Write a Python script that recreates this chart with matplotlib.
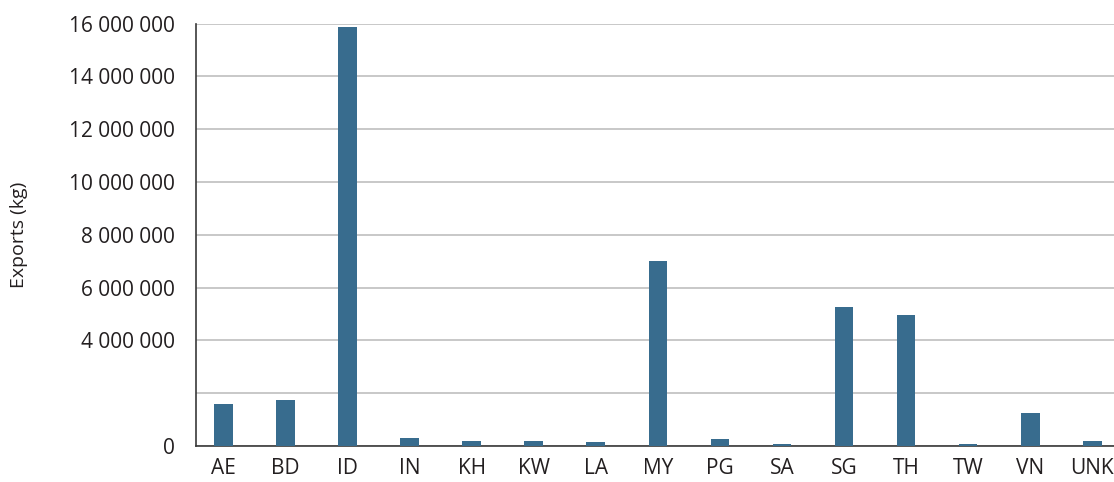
import matplotlib.pyplot as plt
import numpy as np

plt.rcParams['font.family'] = ['Open Sans', 'DejaVu Sans']

countries = ['AE', 'BD', 'ID', 'IN', 'KH', 'KW', 'LA', 'MY', 'PG', 'SA',
             'SG', 'TH', 'TW', 'VN', 'UNK']
exports_kg = [1590000, 1740000, 15880000, 300000, 190000, 190000, 150000,
              6990000, 260000, 80000, 5260000, 4950000, 60000, 1250000, 190000]
ytick_vals = [0, 2000000, 4000000, 6000000, 8000000, 10000000, 12000000,
              14000000, 16000000]
ytick_text = ['0', '', '4 000 000', '6 000 000', '8 000 000', '10 000 000',
              '12 000 000', '14 000 000', '16 000 000']

fig = plt.figure(figsize=(11.14, 4.82), dpi=100)
ax = fig.add_axes([0.176, 0.0747, 0.824, 0.8765])

x = np.arange(len(countries))
ax.bar(x, exports_kg, width=0.3, color='#386c8e', zorder=3)

ax.set_ylim(0, 16000000)
ax.set_xlim(-0.44, len(countries) - 0.65)
ax.set_yticks(ytick_vals)
ax.set_yticklabels(ytick_text)
ax.set_xticks(x)
ax.set_xticklabels(countries)
ax.yaxis.grid(True, color='#c4c4c4', linewidth=1.3, zorder=0)
ax.tick_params(axis='both', length=0, labelsize=15, colors='#231f20')
ax.tick_params(axis='x', pad=9)
ax.tick_params(axis='y', pad=15)

for s in ['top', 'right']:
    ax.spines[s].set_visible(False)
ax.spines['left'].set_color('#3a3a3a')
ax.spines['bottom'].set_color('#3a3a3a')
ax.spines['left'].set_linewidth(1.2)
ax.spines['bottom'].set_linewidth(1.2)

ax.set_ylabel('Exports (kg)', fontsize=14, color='#231f20', labelpad=30)

fig.savefig('out.png', dpi=100)
